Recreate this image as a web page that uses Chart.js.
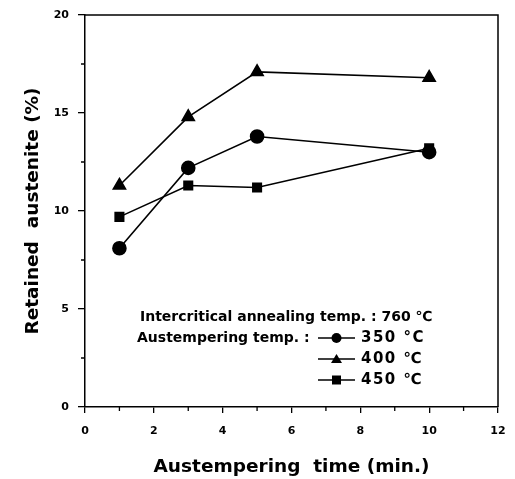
<!DOCTYPE html>
<html>
<head>
<meta charset="utf-8">
<script src="https://cdn.jsdelivr.net/npm/chart.js@4"></script>
<style>
html,body{margin:0;padding:0;background:#fff;}
#wrap{width:515px;height:479px;position:relative;}
</style>
</head>
<body>
<div id="wrap"><canvas id="c" width="515" height="479"></canvas></div>
<script>
// ---- data ----
const times = [1, 3, 5, 10];
const ra350 = [8.1, 12.2, 13.8, 13.0];
const ra400 = [11.3, 14.8, 17.1, 16.8];
const ra450 = [9.7, 11.3, 11.2, 13.2];
const seriesLabels = ['350 °C', '400 ℃', '450 ℃'];
const xMinorTicks = [1, 3, 5, 7, 9, 11];
const yMinorTicks = [2.5, 7.5, 12.5, 17.5];
const legendTitle1 = 'Intercritical annealing temp. : 760 ℃';
const legendTitle2 = 'Austempering temp. :';
const xTitle = 'Austempering  time (min.)';
const yTitle = 'Retained  austenite (%)';

const FONT = "'DejaVu Sans', 'Liberation Sans', Arial, sans-serif";
const pts = (ys) => times.map((t, i) => ({x: t, y: ys[i]}));

const frame = {
  id: 'frame',
  afterDraw(chart) {
    const {ctx, chartArea: a, scales} = chart;
    ctx.save();
    ctx.strokeStyle = '#000';
    ctx.lineWidth = 1.5;
    ctx.beginPath();
    ctx.moveTo(a.left, a.top); ctx.lineTo(a.right, a.top); ctx.lineTo(a.right, a.bottom);
    ctx.stroke();
    // minor ticks
    ctx.lineWidth = 1.3;
    ctx.beginPath();
    xMinorTicks.forEach(v => {
      const px = scales.x.getPixelForValue(v);
      ctx.moveTo(px, a.bottom); ctx.lineTo(px, a.bottom + 4);
    });
    yMinorTicks.forEach(v => {
      const py = scales.y.getPixelForValue(v);
      ctx.moveTo(a.left, py); ctx.lineTo(a.left - 4, py);
    });
    ctx.stroke();
    ctx.restore();
  }
};

const customLegend = {
  id: 'customLegend',
  afterDraw(chart) {
    const {ctx, scales} = chart;
    ctx.save();
    ctx.fillStyle = '#000';
    ctx.font = 'bold 14px ' + FONT;
    ctx.textBaseline = 'middle';
    ctx.textAlign = 'left';
    const x0 = scales.x.getPixelForValue(0) + 52;
    ctx.fillText(legendTitle1, x0 + 3, 317);
    ctx.fillText(legendTitle2, x0, 338);
    const rowsY = [338, 359, 380];
    const lx1 = 318, lx2 = 355, tx = 361;
    chart.data.datasets.forEach((ds, i) => {
      const y = rowsY[i];
      ctx.strokeStyle = '#000';
      ctx.lineWidth = 1.5;
      ctx.beginPath(); ctx.moveTo(lx1, y); ctx.lineTo(lx2, y); ctx.stroke();
      const mx = (lx1 + lx2) / 2;
      ctx.beginPath();
      if (ds.pointStyle === 'circle') {
        ctx.arc(mx, y, 5, 0, Math.PI * 2);
      } else if (ds.pointStyle === 'triangle') {
        ctx.moveTo(mx, y - 5); ctx.lineTo(mx + 5.5, y + 4); ctx.lineTo(mx - 5.5, y + 4); ctx.closePath();
      } else {
        ctx.rect(mx - 4.5, y - 4.5, 9, 9);
      }
      ctx.fill();
      ctx.font = 'bold 15px ' + FONT;
      if ('letterSpacing' in ctx) ctx.letterSpacing = '1.5px';
      ctx.fillText(ds.label, tx, y);
      if ('letterSpacing' in ctx) ctx.letterSpacing = '0px';
    });
    ctx.restore();
  }
};

new Chart(document.getElementById('c'), {
  type: 'line',
  data: {
    datasets: [
      {label: seriesLabels[0], data: pts(ra350), pointStyle: 'circle', pointRadius: 6.5},
      {label: seriesLabels[1], data: pts(ra400), pointStyle: 'triangle', pointRadius: 7},
      {label: seriesLabels[2], data: pts(ra450), pointStyle: 'rect', pointRadius: 6}
    ].map(d => Object.assign({
      borderColor: '#000', backgroundColor: '#000', borderWidth: 1.6,
      pointBackgroundColor: '#000', pointBorderColor: '#000', tension: 0, fill: false
    }, d))
  },
  options: {
    responsive: false,
    animation: false,
    events: [],
    layout: {padding: {left: 0, right: 17, top: 15, bottom: 0}},
    plugins: {legend: {display: false}, tooltip: {enabled: false}},
    scales: {
      x: {
        type: 'linear', min: 0, max: 12,
        afterFit: s => { s.height = 72; s.paddingLeft = 0; s.paddingRight = 0; },
        ticks: {stepSize: 2, color: '#000', padding: 12, font: {family: FONT, size: 11, weight: 'bold'}, maxRotation: 0},
        grid: {drawOnChartArea: false, drawTicks: true, tickLength: 6, color: '#000', lineWidth: 1.3},
        border: {color: '#000', width: 1.5},
        title: {display: true, text: xTitle, color: '#000', font: {family: FONT, size: 18.5, weight: 'bold'}, padding: {top: 0, bottom: 1}}
      },
      y: {
        type: 'linear', min: 0, max: 20,
        afterFit: s => { s.width = 85; s.paddingTop = 0; s.paddingBottom = 0; },
        ticks: {stepSize: 5, color: '#000', padding: 9, font: {family: FONT, size: 11, weight: 'bold'}},
        grid: {drawOnChartArea: false, drawTicks: true, tickLength: 7, color: '#000', lineWidth: 1.3},
        border: {color: '#000', width: 1.5},
        title: {display: true, text: yTitle, color: '#000', font: {family: FONT, size: 18.5, weight: 'bold'}, padding: {top: 22, bottom: 0}}
      }
    }
  },
  plugins: [frame, customLegend]
});
</script>
</body>
</html>
